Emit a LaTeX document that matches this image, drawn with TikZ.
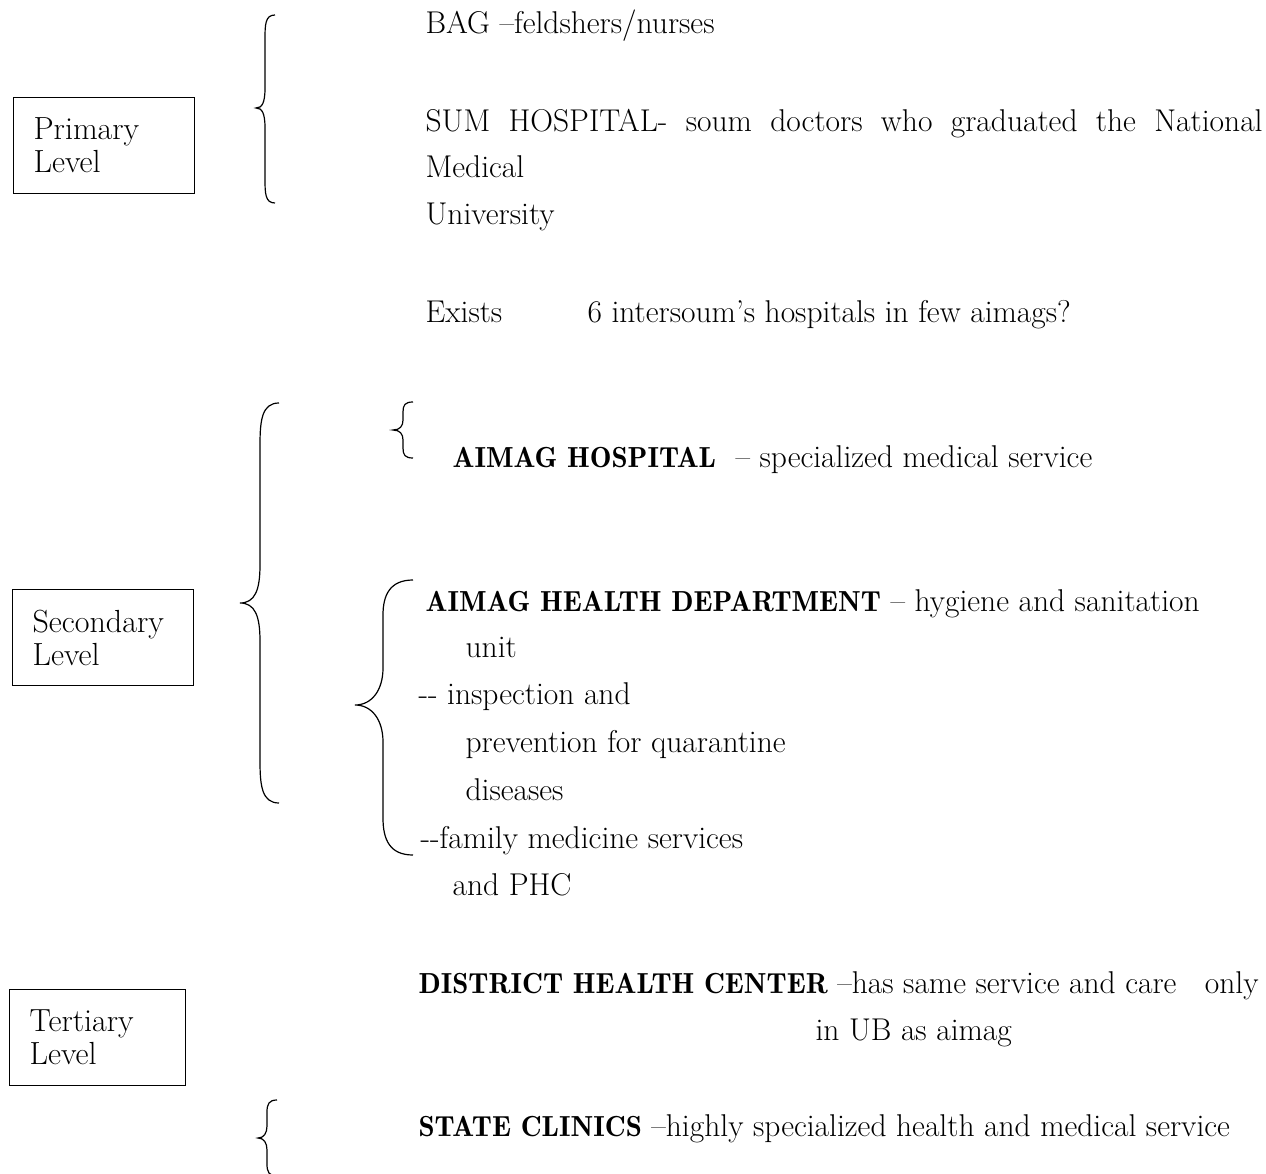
\documentclass[tikz,border=0pt]{standalone}

\begin{document}
\begin{tikzpicture}[x=1pt,y=-1pt,line width=1.2pt,
 level/.style={draw,rectangle,anchor=north west,align=left,inner xsep=20pt,inner ysep=0pt,minimum height=96pt,font=\fontsize{32}{33}\selectfont},
 entry/.style={anchor=base west,inner sep=0pt,font=\fontsize{31.5}{38}\selectfont}]
 \clip (0,0) rectangle (1266,1174);
 % level boxes
 \node[level,text width=141pt] (prim) at (13,97) {Primary\\Level};
 \node[level,text width=141pt] (sec) at (12,589) {Secondary\\Level};
 \node[level,text width=136pt] (tert) at (9,989) {Tertiary\\Level};
 % primary level
 \node[entry] (bag) at (425,34) {BAG --feldshers/nurses};
 \node[entry] (sum) at (425,132) {\makebox[837pt][s]{SUM HOSPITAL- soum doctors who graduated the National}};
 \node[entry] (med) at (425,178) {Medical};
 \node[entry] (univ) at (425,225) {University};
 \node[entry] (exists) at (425,322) {\makebox[162pt][l]{Exists}6 intersoum's hospitals in few aimags?};
 % secondary level
 \node[entry] (ahosp) at (452,467) {\makebox[283pt][l]{\fontsize{29}{35}\fontseries{b}\selectfont AIMAG HOSPITAL}-- specialized medical service};
 \node[entry] (ahd) at (425,611) {{\fontsize{29}{35}\fontseries{b}\selectfont AIMAG HEALTH DEPARTMENT} -- hygiene and sanitation};
 \node[entry] (unit) at (465,657) {unit};
 \node[entry] (insp) at (418,704) {-{}- inspection and};
 \node[entry] (prev) at (465,752) {prevention for quarantine};
 \node[entry] (dis) at (465,800) {diseases};
 \node[entry] (fam) at (420,848) {-{}-family medicine services};
 \node[entry] (phc) at (452,895) {and PHC};
 % tertiary level
 \node[entry] (dhc) at (418,993) {\makebox[840pt][l]{{\fontsize{29}{35}\fontseries{b}\selectfont DISTRICT HEALTH CENTER} --has same service and care\hfill only}};
 \node[entry] (ub) at (815,1040) {in UB as aimag};
 \node[entry] (state) at (418,1136) {{\fontsize{29}{35}\fontseries{b}\selectfont STATE CLINICS} --highly specialized health and medical service};
 % braces
 \draw (275,15) .. controls (265,15) and (265,25) .. (265,40) -- (265,88)
   .. controls (265,103) and (262,108) .. (256,108) .. controls (262,108) and (265,113) .. (265,128)
   -- (265,178) .. controls (265,193) and (265,203) .. (275,203);
 \draw (279,403) .. controls (262,403) and (260,420) .. (260,445) -- (260,565)
   .. controls (260,590) and (255,603) .. (240,603) .. controls (255,603) and (260,616) .. (260,641)
   -- (260,761) .. controls (260,786) and (262,803) .. (279,803);
 \draw (413,402) .. controls (405,402) and (403,405) .. (403,412) -- (403,420)
   .. controls (403,426) and (400,430) .. (393,430) .. controls (400,430) and (403,434) .. (403,440)
   -- (403,448) .. controls (403,455) and (405,458) .. (413,458);
 \draw (413,580) .. controls (390,580) and (383,595) .. (383,615) -- (383,668)
   .. controls (383,690) and (372,705) .. (355,705) .. controls (372,705) and (383,720) .. (383,742)
   -- (383,818) .. controls (383,840) and (390,855) .. (413,855);
 \draw (277,1100) .. controls (269,1100) and (267,1104) .. (267,1112) -- (267,1126)
   .. controls (267,1133) and (264,1138) .. (258,1138) .. controls (264,1138) and (267,1143) .. (267,1150)
   -- (267,1164) .. controls (267,1172) and (269,1176) .. (277,1176);
\end{tikzpicture}
\end{document}
